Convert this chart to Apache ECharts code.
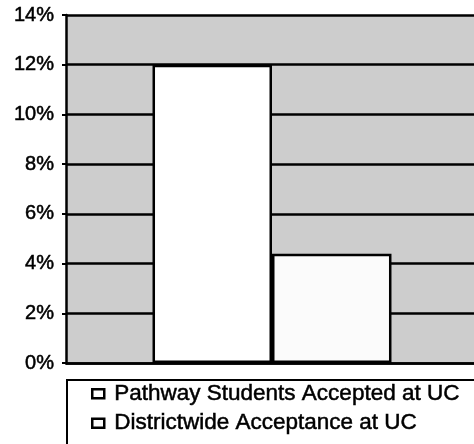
<!DOCTYPE html>
<html>
<head>
<meta charset="utf-8">
<script src="https://cdn.jsdelivr.net/npm/echarts@6/dist/echarts.min.js"></script>
<style>
  html, body { margin: 0; padding: 0; background: #fff; }
  #chart { width: 474px; height: 444px; }
</style>
</head>
<body>
<div id="chart"></div>
<script>
// Acceptance rates at UC (percent)
const categories = [''];
const seriesNames = ['Pathway Students Accepted at UC', 'Districtwide Acceptance at UC'];
const pathwayValues = [12];
const districtValues = [4.4];
const yTicks = { min: 0, max: 14, step: 2 };

const FONT = '"Liberation Sans", Arial, sans-serif';
const chart = echarts.init(document.getElementById('chart'), null, { renderer: 'canvas' });

const barStyle = (fill) => ({ color: fill, borderColor: '#000', borderWidth: 2.5 });

chart.setOption({
  animation: false,
  backgroundColor: '#fff',
  grid: {
    left: 66, top: 15, width: 412, height: 348,
    outerBoundsMode: 'none',
    show: true, backgroundColor: '#cdcdcd', borderWidth: 0
  },
  xAxis: {
    type: 'category',
    data: categories,
    axisLine: { show: true, lineStyle: { color: '#000', width: 2.5 } },
    axisTick: { show: false },
    axisLabel: { show: false }
  },
  yAxis: {
    type: 'value',
    min: yTicks.min, max: yTicks.max, interval: yTicks.step,
    axisLine: { show: true, lineStyle: { color: '#000', width: 2.5 } },
    axisTick: { show: true, length: 4, lineStyle: { color: '#000', width: 2 } },
    axisLabel: {
      formatter: '{value}%', color: '#000', fontSize: 20, fontFamily: FONT, margin: 12,
      textBorderColor: '#000', textBorderWidth: 0.5
    },
    splitLine: { show: true, lineStyle: { color: '#000', width: 2.5 } }
  },
  // frame around the legend, running off the right and bottom edges
  graphic: [{
    type: 'rect', z: 0,
    shape: { x: 67, y: 380, width: 430, height: 90 },
    style: { fill: '#fff', stroke: '#000', lineWidth: 2 }
  }],
  legend: {
    orient: 'vertical',
    left: 91, top: 382,
    padding: 0,
    borderWidth: 0,
    itemWidth: 12, itemHeight: 9, itemGap: 6,
    icon: 'rect',
    z: 10,
    itemStyle: { borderColor: '#000', borderWidth: 2.5 },
    textStyle: {
      color: '#000', fontSize: 22.5, fontFamily: FONT, lineHeight: 22, padding: [0, 0, 0, 5],
      textBorderColor: '#000', textBorderWidth: 0.5
    },
    data: seriesNames
  },
  series: [
    {
      name: seriesNames[0], type: 'bar', data: pathwayValues,
      barGap: '0%', barCategoryGap: '42%',
      itemStyle: barStyle('#ffffff')
    },
    {
      name: seriesNames[1], type: 'bar', data: districtValues,
      itemStyle: barStyle('#fbfbfb')
    }
  ]
});
</script>
</body>
</html>
